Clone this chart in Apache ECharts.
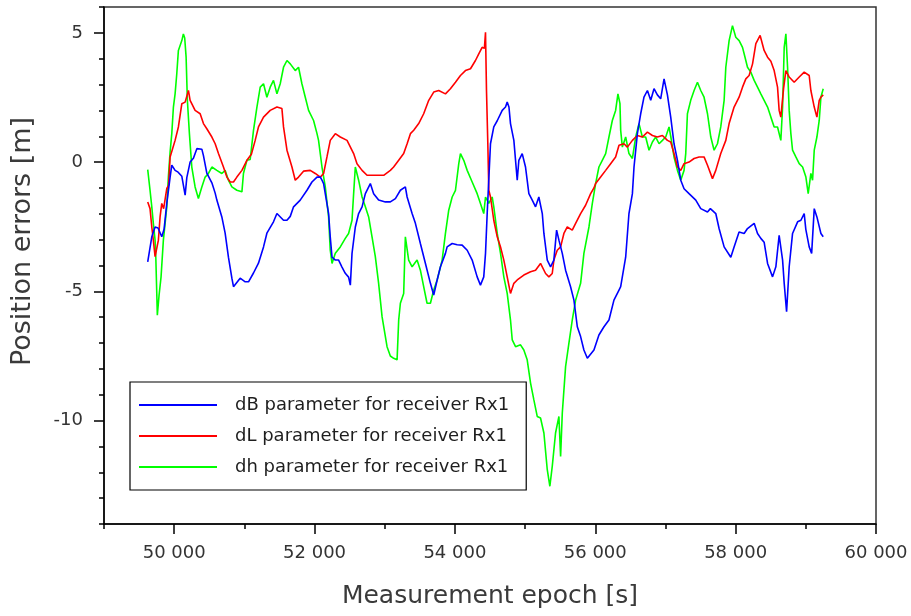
<!DOCTYPE html>
<html><head><meta charset="utf-8">
<script src="https://cdn.jsdelivr.net/npm/echarts@6/dist/echarts.min.js"></script>
<style>html,body{margin:0;padding:0;background:#fff}#c{width:911px;height:616px}</style>
</head><body><div id="c"></div>
<script>
const seriesNames = ['dB parameter for receiver Rx1','dL parameter for receiver Rx1','dh parameter for receiver Rx1'];
const seriesColors = ['#0000ff','#ff0000','#00ff00'];
const xTickValues = [50000,52000,54000,56000,58000,60000];
const yTickValues = [-10,-5,0,5];
const xTitle = 'Measurement epoch [s]';
const yTitle = 'Position errors [m]';

const dB = [[49623,-3.86],[49681,-2.89],[49728,-2.51],[49770,-2.55],[49823,-2.89],[49856,-2.6],[49895,-1.59],[49942,-0.58],[49966,-0.12],[50013,-0.32],[50056,-0.39],[50109,-0.55],[50156,-1.28],[50180,-0.6],[50227,0.0],[50274,0.15],[50323,0.52],[50394,0.5],[50417,0.25],[50465,-0.43],[50537,-0.8],[50584,-1.2],[50608,-1.47],[50679,-2.12],[50726,-2.75],[50773,-3.68],[50822,-4.49],[50845,-4.82],[50940,-4.49],[51012,-4.63],[51059,-4.63],[51130,-4.29],[51201,-3.91],[51273,-3.28],[51321,-2.75],[51415,-2.31],[51464,-1.99],[51558,-2.25],[51607,-2.25],[51654,-2.1],[51701,-1.73],[51796,-1.47],[51892,-1.09],[51963,-0.77],[52035,-0.58],[52082,-0.58],[52106,-0.7],[52129,-0.83],[52200,-1.98],[52224,-2.9],[52249,-3.68],[52296,-3.79],[52343,-3.79],[52391,-4.06],[52438,-4.3],[52485,-4.45],[52510,-4.76],[52534,-3.53],[52581,-2.51],[52628,-1.99],[52677,-1.73],[52724,-1.22],[52795,-0.83],[52842,-1.22],[52913,-1.47],[53009,-1.54],[53080,-1.54],[53152,-1.41],[53223,-1.09],[53294,-0.96],[53319,-1.35],[53390,-1.99],[53437,-2.37],[53508,-3.15],[53580,-3.92],[53651,-4.69],[53698,-5.14],[53747,-4.56],[53794,-4.05],[53865,-3.53],[53889,-3.28],[53961,-3.15],[54032,-3.2],[54103,-3.21],[54175,-3.41],[54246,-3.79],[54317,-4.44],[54364,-4.76],[54411,-4.44],[54436,-3.53],[54460,-1.99],[54507,0.71],[54554,1.36],[54603,1.6],[54674,2.0],[54721,2.13],[54745,2.32],[54770,2.13],[54792,1.49],[54840,0.84],[54888,-0.7],[54911,0.07],[54959,0.33],[55006,-0.19],[55054,-1.22],[55102,-1.47],[55149,-1.73],[55196,-1.35],[55245,-1.99],[55268,-2.76],[55316,-3.79],[55363,-4.05],[55410,-3.79],[55449,-2.63],[55482,-3.02],[55530,-3.53],[55577,-4.18],[55648,-4.82],[55696,-5.34],[55744,-6.37],[55791,-6.75],[55838,-7.27],[55887,-7.59],[55981,-7.27],[56052,-6.69],[56124,-6.37],[56195,-6.11],[56266,-5.34],[56338,-4.95],[56362,-4.82],[56433,-3.68],[56480,-1.99],[56529,-1.22],[56552,-0.19],[56600,1.1],[56647,1.87],[56694,2.51],[56743,2.77],[56790,2.39],[56837,2.84],[56885,2.6],[56932,2.45],[56980,3.22],[57004,3.16],[57028,2.6],[57075,1.74],[57122,0.71],[57171,0.07],[57218,-0.7],[57265,-1.03],[57336,-1.22],[57432,-1.47],[57503,-1.8],[57599,-1.93],[57640,-1.8],[57717,-1.99],[57764,-2.57],[57836,-3.28],[57931,-3.68],[57978,-3.28],[58049,-2.7],[58121,-2.76],[58169,-2.57],[58264,-2.37],[58312,-2.76],[58359,-2.95],[58406,-3.1],[58455,-3.92],[58526,-4.44],[58573,-4.05],[58620,-2.83],[58669,-3.79],[58692,-4.69],[58726,-5.79],[58763,-4.05],[58811,-2.76],[58883,-2.31],[58930,-2.25],[58977,-1.99],[59000,-2.6],[59048,-3.28],[59083,-3.53],[59120,-1.8],[59158,-2.12],[59215,-2.76],[59248,-2.89]];

const dL = [[49623,-1.54],[49656,-1.8],[49681,-2.51],[49703,-3.02],[49728,-3.66],[49750,-3.7],[49775,-3.02],[49799,-2.12],[49823,-1.6],[49850,-1.8],[49895,-1.02],[49920,-0.9],[49942,0.2],[49966,0.2],[50013,0.84],[50060,1.36],[50109,2.26],[50156,2.32],[50203,2.77],[50227,2.39],[50298,2.0],[50370,1.87],[50417,1.49],[50465,1.29],[50537,0.97],[50584,0.71],[50631,0.33],[50702,-0.19],[50751,-0.58],[50798,-0.77],[50845,-0.77],[50893,-0.58],[50965,-0.32],[51036,0.07],[51100,0.3],[51154,0.84],[51201,1.36],[51273,1.74],[51368,2.0],[51464,2.13],[51535,2.07],[51558,1.36],[51607,0.46],[51678,-0.19],[51725,-0.7],[51772,-0.58],[51843,-0.35],[51939,-0.32],[52010,-0.44],[52082,-0.58],[52129,-0.44],[52177,0.2],[52224,0.84],[52296,1.1],[52367,0.97],[52463,0.84],[52557,0.33],[52605,-0.06],[52677,-0.32],[52748,-0.51],[52795,-0.51],[52938,-0.51],[52985,-0.51],[53080,-0.32],[53127,-0.19],[53199,0.07],[53270,0.33],[53319,0.71],[53366,1.1],[53413,1.23],[53484,1.49],[53555,1.87],[53627,2.39],[53698,2.71],[53769,2.77],[53865,2.64],[53936,2.84],[54008,3.09],[54079,3.35],[54150,3.54],[54222,3.61],[54293,3.93],[54340,4.19],[54388,4.44],[54420,4.4],[54436,5.02],[54450,2.77],[54469,0.71],[54483,-1.09],[54507,-1.35],[54554,-2.25],[54603,-2.89],[54650,-3.28],[54697,-3.79],[54745,-4.44],[54792,-5.08],[54840,-4.69],[54888,-4.56],[54982,-4.37],[55078,-4.24],[55149,-4.18],[55220,-3.92],[55292,-4.31],[55339,-4.44],[55387,-4.31],[55410,-3.79],[55458,-3.41],[55506,-3.28],[55553,-2.76],[55601,-2.51],[55672,-2.63],[55720,-2.37],[55791,-1.99],[55862,-1.67],[55934,-1.22],[55981,-1.0],[56005,-0.83],[56076,-0.58],[56148,-0.32],[56219,-0.06],[56290,0.2],[56338,0.65],[56409,0.71],[56457,0.58],[56529,0.84],[56600,1.03],[56671,0.97],[56743,1.16],[56814,1.03],[56885,0.97],[56957,1.03],[57028,0.84],[57075,0.78],[57122,0.33],[57171,-0.19],[57218,-0.32],[57265,-0.06],[57336,0.0],[57408,0.14],[57479,0.2],[57550,0.2],[57599,-0.12],[57622,-0.19],[57670,-0.64],[57717,-0.32],[57788,0.33],[57860,0.84],[57907,1.49],[57978,2.13],[58049,2.51],[58098,2.9],[58145,3.22],[58192,3.35],[58241,3.8],[58288,4.58],[58349,4.9],[58406,4.32],[58455,4.06],[58502,3.9],[58549,3.54],[58597,2.9],[58620,2.0],[58644,1.74],[58683,2.84],[58716,3.54],[58763,3.29],[58834,3.09],[58906,3.29],[58977,3.48],[59048,3.35],[59072,2.77],[59120,2.13],[59158,1.74],[59191,2.39],[59215,2.51],[59248,2.6]];

const dh = [[49623,-0.29],[49656,-1.09],[49681,-1.73],[49703,-2.37],[49728,-3.02],[49738,-3.66],[49752,-5.08],[49760,-5.92],[49785,-5.14],[49813,-4.44],[49846,-3.02],[49895,-1.73],[49917,-0.58],[49942,0.4],[49966,1.1],[49989,2.13],[50013,2.64],[50037,3.42],[50060,4.32],[50109,4.7],[50131,4.96],[50150,4.8],[50170,4.06],[50188,2.39],[50217,1.1],[50251,-0.19],[50298,-0.96],[50345,-1.41],[50394,-0.96],[50441,-0.58],[50488,-0.44],[50537,-0.19],[50608,-0.32],[50679,-0.44],[50726,-0.32],[50773,-0.7],[50822,-0.96],[50893,-1.09],[50965,-1.15],[50987,-0.44],[51036,0.07],[51083,0.1],[51130,1.23],[51179,2.13],[51226,2.9],[51273,3.03],[51321,2.51],[51368,2.9],[51415,3.16],[51464,2.64],[51511,3.03],[51558,3.67],[51607,3.93],[51654,3.8],[51725,3.54],[51772,3.67],[51820,3.03],[51868,2.51],[51915,2.0],[51986,1.61],[52035,1.1],[52057,0.84],[52106,-0.19],[52153,-0.96],[52200,-2.12],[52224,-3.41],[52249,-3.92],[52296,-3.53],[52367,-3.28],[52438,-2.95],[52485,-2.76],[52534,-2.25],[52557,-1.22],[52581,-0.19],[52628,-0.7],[52677,-1.35],[52724,-1.73],[52771,-2.12],[52819,-2.89],[52866,-3.66],[52913,-4.69],[52962,-5.98],[53033,-7.14],[53080,-7.5],[53127,-7.59],[53176,-7.65],[53199,-6.11],[53223,-5.46],[53270,-5.08],[53294,-2.89],[53341,-3.79],[53390,-4.05],[53461,-3.79],[53508,-4.18],[53555,-4.82],[53603,-5.46],[53651,-5.46],[53698,-4.95],[53747,-4.56],[53818,-3.79],[53865,-2.76],[53912,-1.86],[53961,-1.35],[54008,-1.09],[54055,-0.06],[54079,0.33],[54126,0.07],[54175,-0.32],[54246,-0.77],[54317,-1.22],[54364,-1.6],[54411,-1.99],[54436,-1.35],[54483,-1.6],[54531,-1.35],[54554,-1.73],[54603,-2.76],[54650,-3.53],[54697,-4.44],[54745,-5.08],[54792,-6.11],[54817,-6.88],[54864,-7.14],[54935,-7.07],[54982,-7.27],[55030,-7.65],[55078,-8.55],[55125,-9.2],[55173,-9.84],[55220,-9.9],[55268,-10.48],[55316,-11.9],[55353,-12.54],[55387,-11.77],[55434,-10.48],[55482,-9.84],[55506,-11.39],[55530,-9.71],[55577,-7.91],[55624,-7.01],[55672,-6.11],[55720,-5.34],[55791,-4.69],[55838,-3.53],[55910,-2.51],[55958,-1.6],[56005,-0.83],[56052,-0.19],[56100,0.07],[56148,0.33],[56195,0.97],[56243,1.61],[56290,2.0],[56323,2.64],[56352,2.26],[56362,1.23],[56386,0.58],[56433,0.97],[56480,0.33],[56529,0.14],[56576,0.97],[56623,1.49],[56671,0.97],[56718,0.97],[56766,0.46],[56814,0.78],[56861,0.97],[56909,0.71],[56957,0.84],[57004,0.97],[57051,1.36],[57075,1.0],[57122,0.2],[57171,-0.32],[57218,-0.7],[57265,-0.32],[57289,0.33],[57313,1.87],[57360,2.39],[57408,2.77],[57456,3.09],[57503,2.77],[57550,2.51],[57599,1.87],[57646,0.97],[57693,0.46],[57741,0.71],[57788,1.36],[57836,2.39],[57860,3.67],[57907,4.7],[57955,5.28],[58002,4.83],[58050,4.7],[58098,4.44],[58121,4.19],[58169,3.67],[58216,3.48],[58264,3.16],[58312,2.9],[58359,2.64],[58406,2.39],[58455,2.13],[58502,1.74],[58549,1.36],[58597,1.36],[58644,0.84],[58669,2.13],[58692,4.44],[58716,4.96],[58740,3.67],[58763,2.0],[58787,1.1],[58811,0.46],[58858,0.2],[58906,-0.06],[58954,-0.19],[59001,-0.58],[59034,-1.22],[59072,-0.44],[59096,-0.7],[59120,0.46],[59158,0.97],[59191,1.61],[59215,2.51],[59248,2.84]];

const seriesData = [dB, dL, dh];
const FONT = 'DejaVu Sans';
const fmtThousands = v => String(v).replace(/\B(?=(\d{3})+(?!\d))/g, ' ');

const chart = echarts.init(document.getElementById('c'), null, {renderer: 'canvas'});
chart.setOption({
  animation: false,
  backgroundColor: '#ffffff',
  grid: {left: 104, right: 35, top: 7, bottom: 92, show: true, borderColor: '#333', borderWidth: 1.5, backgroundColor: 'transparent'},
  legend: {
    orient: 'vertical', left: 130, top: 382,
    padding: [13, 17, 13, 9],
    borderColor: '#000', borderWidth: 1.2,
    backgroundColor: '#fff',
    icon: 'rect', itemWidth: 78, itemHeight: 2, itemGap: 11,
    textStyle: {fontFamily: FONT, fontSize: 18, color: '#1e1e1e', lineHeight: 20, padding: [0, 0, 0, 13]},
    data: seriesNames.map((n, i) => ({name: n, itemStyle: {color: seriesColors[i]}}))
  },
  xAxis: [
    {
      type: 'value', min: 49000, max: 60000, position: 'bottom',
      axisLine: {show: true, onZero: false, lineStyle: {color: '#000', width: 1.5}},
      axisTick: {show: true, customValues: xTickValues, length: 10, inside: false, lineStyle: {color: '#000', width: 1.5}},
      axisLabel: {show: true, customValues: xTickValues, formatter: fmtThousands, margin: 20, fontFamily: FONT, fontSize: 18, color: '#333'},
      splitLine: {show: false},
      name: xTitle, nameLocation: 'middle', nameGap: 60,
      nameTextStyle: {fontFamily: FONT, fontSize: 25, color: '#3a3a3a'}
    },
    {
      type: 'value', min: 49000, max: 60000, interval: 1000, position: 'bottom',
      axisLine: {show: false, onZero: false},
      axisTick: {show: true, length: 5, lineStyle: {color: '#000', width: 1.5}},
      axisLabel: {show: false},
      splitLine: {show: false}
    }
  ],
  yAxis: [
    {
      type: 'value', min: -14, max: 6, position: 'left',
      axisLine: {show: true, onZero: false, lineStyle: {color: '#000', width: 1.5}},
      axisTick: {show: true, customValues: yTickValues, length: 10, lineStyle: {color: '#000', width: 1.5}},
      axisLabel: {show: true, customValues: yTickValues, margin: 21, fontFamily: FONT, fontSize: 18, color: '#333'},
      splitLine: {show: false},
      name: yTitle, nameLocation: 'middle', nameGap: 68, nameRotate: 90,
      nameTextStyle: {fontFamily: FONT, fontSize: 27, color: '#3a3a3a', padding: [0, 0, 0, 48]}
    },
    {
      type: 'value', min: -14, max: 6, interval: 1, position: 'left',
      axisLine: {show: false, onZero: false},
      axisTick: {show: true, length: 5, lineStyle: {color: '#000', width: 1.5}},
      axisLabel: {show: false},
      splitLine: {show: false}
    }
  ],
  series: seriesNames.map((n, i) => ({
    name: n, type: 'line', data: seriesData[i], xAxisIndex: 0, yAxisIndex: 0,
    showSymbol: false, symbol: 'none',
    lineStyle: {color: seriesColors[i], width: 1.6},
    itemStyle: {color: seriesColors[i]},
    z: 3 - i
  }))
});
</script>
</body></html>
